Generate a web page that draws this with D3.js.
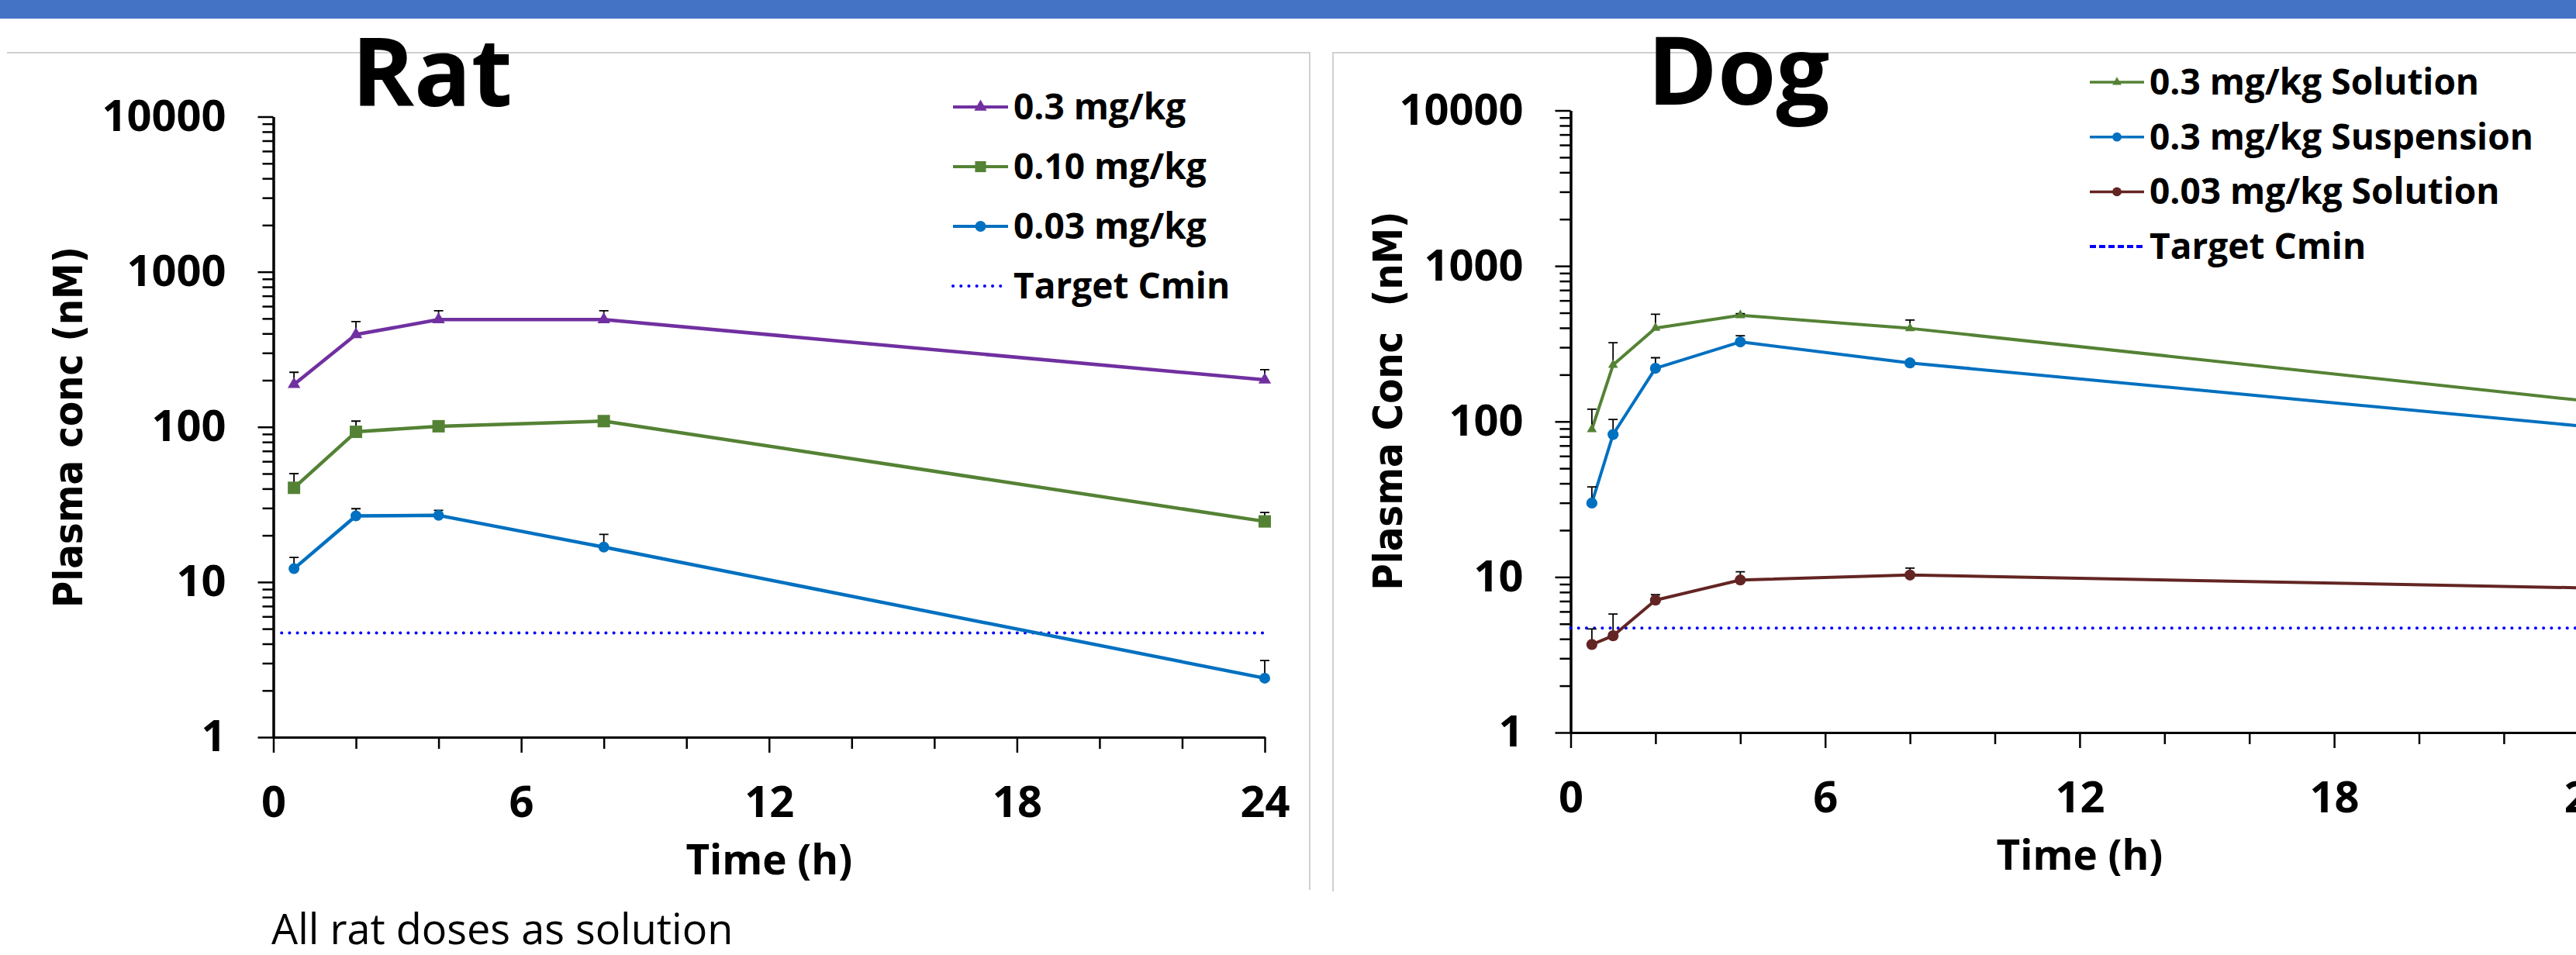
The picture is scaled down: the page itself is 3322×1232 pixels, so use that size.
<!DOCTYPE html>
<html>
<head>
<meta charset="utf-8">
<script src="https://cdn.jsdelivr.net/npm/d3@7"></script>
<style>
  html, body { margin: 0; padding: 0; background: #fff; }
  svg { display: block; }
</style>
</head>
<body>
<svg id="chart" width="3322" height="1232"></svg>
<script>
// values (nM, mean and upper SD)
const ratTimes = [0.5, 2, 4, 8, 24];
const ratNames = ['0.3 mg/kg', '0.10 mg/kg', '0.03 mg/kg'];
const rat03 = [188, 394, 492, 492, 201];
const rat03Err = [37, 83, 69, 69, 33];
const rat010 = [40.5, 93, 101, 109, 24.6];
const rat010Err = [9.5, 16, 3, 3, 3.5];
const rat003 = [12.2, 26.7, 26.9, 16.8, 2.4];
const rat003Err = [2.2, 3.0, 2.1, 3.5, 0.72];
const ratTargetSpan = [0.2, 24];

const dogTimes = [0.5, 1, 2, 4, 8, 24];
const dogNames = ['0.3 mg/kg Solution', '0.3 mg/kg Suspension', '0.03 mg/kg Solution'];
const dogSol03 = [89, 231, 399, 482, 397, 135];
const dogSol03Err = [31, 90, 91, 12, 52, 10];
const dogSusp03 = [29.9, 82.5, 220, 325, 238, 92.5];
const dogSusp03Err = [8.1, 20.5, 37, 31, 8, 5];
const dogSol003 = [3.68, 4.19, 7.1, 9.57, 10.3, 8.5];
const dogSol003Err = [0.96, 1.59, 0.59, 1.23, 1.1, 0.5];
const dogTargetSpan = [0, 24];

const targetCmin = 4.7;
const targetLabel = 'Target Cmin';
const yTicks = [1, 10, 100, 1000, 10000];
const xTicks = [0, 6, 12, 18, 24];
const xMinorTicks = [2, 4, 8, 10, 14, 16, 20, 22];

const purple = '#7030A0';
const green = '#548235';
const blue = '#0070C0';
const maroon = '#632523';
const targetBlue = '#0000FF';

const boldFont = "'Open Sans', 'Liberation Sans', sans-serif";
const labelFont = "'DejaVu Sans Condensed', 'DejaVu Sans', sans-serif";

const svg = d3.select('#chart');

// minor log ticks 2..9 in each decade
const yMinorTicks = [];
for (let k = 0; k < 4; k++) {
  for (let m = 2; m <= 9; m++) yMinorTicks.push(m * Math.pow(10, k));
}

// header band
svg.append('rect')
  .attr('x', 0).attr('y', 0)
  .attr('width', 3322).attr('height', 24)
  .attr('fill', '#4472C4');

function drawPanel(cfg) {
  const g = svg.append('g');

  // only the frame edges that show on the slide
  g.append('path')
    .attr('d', cfg.frame)
    .attr('fill', 'none')
    .attr('stroke', '#d0d0d0')
    .attr('stroke-width', 2);

  const x = d3.scaleLinear().domain([0, 24]).range(cfg.xRange);
  const y = d3.scaleLog().domain([1, 10000]).range(cfg.yRange);

  const yMinor = g.append('g')
    .attr('transform', `translate(${cfg.xRange[0]},0)`)
    .call(d3.axisLeft(y).tickValues(yMinorTicks).tickSize(14).tickSizeOuter(0).tickFormat(''));
  const yMajor = g.append('g')
    .attr('transform', `translate(${cfg.xRange[0]},0)`)
    .call(d3.axisLeft(y).tickValues(yTicks).tickSize(20).tickSizeOuter(0)
      .tickPadding(41).tickFormat(d3.format('d')));

  const xMinor = g.append('g')
    .attr('transform', `translate(0,${cfg.yRange[0]})`)
    .call(d3.axisBottom(x).tickValues(xMinorTicks).tickSize(15).tickSizeOuter(0).tickFormat(''));
  const xMajor = g.append('g')
    .attr('transform', `translate(0,${cfg.yRange[0]})`)
    .call(d3.axisBottom(x).tickValues(xTicks).tickSize(20).tickSizeOuter(0).tickPadding(43));

  [yMinor, yMajor, xMinor, xMajor].forEach(ax => {
    ax.attr('font-family', boldFont).attr('font-size', 56).attr('font-weight', 'bold');
    ax.select('.domain').attr('stroke', '#000').attr('stroke-width', 3);
    ax.selectAll('.tick line').attr('stroke', '#000').attr('stroke-width', 2.5);
    ax.selectAll('.tick text').attr('fill', '#000');
  });

  // target line
  g.append('line')
    .attr('x1', x(cfg.targetSpan[0])).attr('x2', x(cfg.targetSpan[1]))
    .attr('y1', y(targetCmin)).attr('y2', y(targetCmin))
    .attr('stroke', targetBlue)
    .attr('stroke-width', 4)
    .attr('stroke-linecap', 'round')
    .attr('stroke-dasharray', '0.1 10.1');

  const line = d3.line().x(d => x(d.t)).y(d => y(d.v));

  cfg.series.forEach(s => {
    const pts = s.values.map((v, i) => ({ t: cfg.times[i], v: v, e: s.err[i] }));

    g.append('path')
      .datum(pts)
      .attr('d', line)
      .attr('fill', 'none')
      .attr('stroke', s.color)
      .attr('stroke-width', cfg.lineWidth)
      .attr('stroke-linejoin', 'round');

    g.selectAll(null)
      .data(pts)
      .enter()
      .append('path')
      .attr('d', d => {
        const cx = x(d.t);
        const top = y(d.v + d.e);
        return `M${cx},${y(d.v)}V${top}M${cx - 6},${top}H${cx + 6}`;
      })
      .attr('fill', 'none')
      .attr('stroke', '#000')
      .attr('stroke-width', 1.8);

    g.selectAll(null)
      .data(pts)
      .enter()
      .append('path')
      .attr('transform', d => `translate(${x(d.t)},${y(d.v)})`)
      .attr('d', d3.symbol().type(s.symbol).size(s.size))
      .attr('fill', s.color);
  });

  // y title
  g.append('text')
    .attr('transform', `translate(${cfg.yTitlePos[0]},${cfg.yTitlePos[1]}) rotate(-90)`)
    .attr('text-anchor', 'middle')
    .attr('dominant-baseline', 'central')
    .attr('font-family', labelFont)
    .attr('font-weight', 'bold')
    .attr('font-size', 52)
    .style('white-space', 'pre')
    .text(cfg.yTitle);

  g.append('text')
    .attr('x', x(12))
    .attr('y', cfg.yRange[0] + 177)
    .attr('text-anchor', 'middle')
    .attr('font-family', boldFont)
    .attr('font-weight', 'bold')
    .attr('font-size', 53)
    .text('Time (h)');

  g.append('text')
    .attr('x', cfg.titlePos[0])
    .attr('y', cfg.titlePos[1])
    .attr('text-anchor', 'middle')
    .attr('font-family', boldFont)
    .attr('font-weight', 'bold')
    .attr('font-size', 122)
    .text(cfg.title);

  // legend
  const lg = g.append('g');
  const rows = cfg.series.concat([{ name: targetLabel, color: targetBlue, target: true }]);
  rows.forEach((s, i) => {
    const ry = cfg.legend.y + i * cfg.legend.step;
    const x0 = cfg.legend.x;
    const x1 = x0 + cfg.legend.len;
    if (s.target) {
      lg.append('line')
        .attr('x1', x0).attr('x2', x1)
        .attr('y1', ry).attr('y2', ry)
        .attr('stroke', targetBlue)
        .attr('stroke-width', 4)
        .attr('stroke-linecap', cfg.legend.dash ? 'butt' : 'round')
        .attr('stroke-dasharray', cfg.legend.dash || '0.1 10.1');
    } else {
      lg.append('line')
        .attr('x1', x0).attr('x2', x1)
        .attr('y1', ry).attr('y2', ry)
        .attr('stroke', s.color)
        .attr('stroke-width', cfg.lineWidth - 0.5);
      lg.append('path')
        .attr('transform', `translate(${(x0 + x1) / 2},${ry})`)
        .attr('d', d3.symbol().type(s.symbol).size(s.legendSize))
        .attr('fill', s.color);
    }
    lg.append('text')
      .attr('x', x1 + 7)
      .attr('y', ry + 16)
      .attr('font-family', boldFont)
      .attr('font-weight', 'bold')
      .attr('font-size', 46)
      .text(s.name);
  });
}

drawPanel({
  title: 'Rat',
  titlePos: [557, 137],
  frame: 'M9,68H1689V1148',
  xRange: [352.5, 1631],
  yRange: [951, 150.5],
  times: ratTimes,
  targetSpan: ratTargetSpan,
  lineWidth: 4.5,
  yTitle: 'Plasma conc (nM)',
  yTitlePos: [88, 551],
  legend: { x: 1229, y: 138, step: 77, len: 71, dash: null },
  series: [
    { name: ratNames[0], values: rat03, err: rat03Err, color: purple, symbol: d3.symbolTriangle, size: 115, legendSize: 115 },
    { name: ratNames[1], values: rat010, err: rat010Err, color: green, symbol: d3.symbolSquare, size: 256, legendSize: 200 },
    { name: ratNames[2], values: rat003, err: rat003Err, color: blue, symbol: d3.symbolCircle, size: 154, legendSize: 154 }
  ]
});

drawPanel({
  title: 'Dog',
  titlePos: [2242, 135],
  frame: 'M1719,1150V68H3322',
  xRange: [2025.5, 3338.3],
  yRange: [945, 142.5],
  times: dogTimes,
  targetSpan: dogTargetSpan,
  lineWidth: 4,
  yTitle: 'Plasma Conc  (nM)',
  yTitlePos: [1790, 517],
  legend: { x: 2695, y: 106, step: 70.7, len: 70, dash: '8 4' },
  series: [
    { name: dogNames[0], values: dogSol03, err: dogSol03Err, color: green, symbol: d3.symbolTriangle, size: 70, legendSize: 60 },
    { name: dogNames[1], values: dogSusp03, err: dogSusp03Err, color: blue, symbol: d3.symbolCircle, size: 160, legendSize: 110 },
    { name: dogNames[2], values: dogSol003, err: dogSol003Err, color: maroon, symbol: d3.symbolCircle, size: 160, legendSize: 110 }
  ]
});

svg.append('text')
  .attr('x', 350)
  .attr('y', 1218)
  .attr('font-family', "'Open Sans', sans-serif")
  .attr('font-size', 54)
  .text('All rat doses as solution');
</script>
</body>
</html>
